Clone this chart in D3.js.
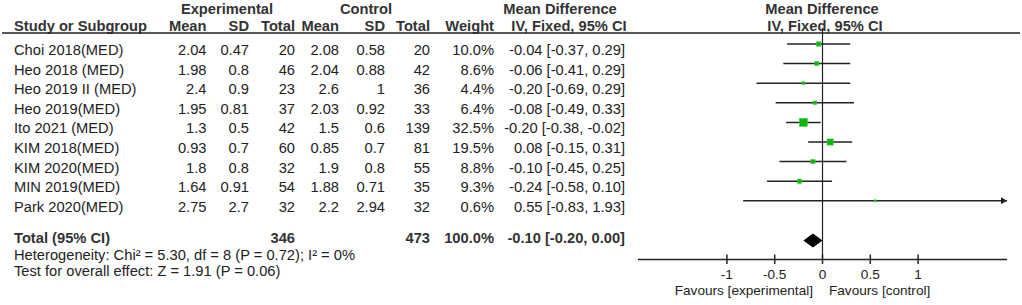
<!DOCTYPE html>
<html>
<head>
<meta charset="utf-8">
<script src="https://cdn.jsdelivr.net/npm/d3@7"></script>
<style>
  body { margin: 0; background: #fff; }
  text { font-family: "Liberation Sans", Arial, sans-serif; font-size: 14.7px; fill: #222; }
  .bold { font-weight: bold; fill: #333; }
  .axis-text { font-size: 13.6px; }
</style>
</head>
<body>
<div id="forest"></div>
<script>
// DATA
const studies = ["Choi 2018(MED)", "Heo 2018 (MED)", "Heo 2019 II (MED)", "Heo 2019(MED)", "Ito 2021 (MED)",
  "KIM 2018(MED)", "KIM 2020(MED)", "MIN 2019(MED)", "Park 2020(MED)"];
const expMean = [2.04, 1.98, 2.4, 1.95, 1.3, 0.93, 1.8, 1.64, 2.75];
const expSD = [0.47, 0.8, 0.9, 0.81, 0.5, 0.7, 0.8, 0.91, 2.7];
const expTotal = [20, 46, 23, 37, 42, 60, 32, 54, 32];
const ctlMean = [2.08, 2.04, 2.6, 2.03, 1.5, 0.85, 1.9, 1.88, 2.2];
const ctlSD = [0.58, 0.88, 1, 0.92, 0.6, 0.7, 0.8, 0.71, 2.94];
const ctlTotal = [20, 42, 36, 33, 139, 81, 55, 35, 32];
const weight = [10.0, 8.6, 4.4, 6.4, 32.5, 19.5, 8.8, 9.3, 0.6];
const md = [-0.04, -0.06, -0.20, -0.08, -0.20, 0.08, -0.10, -0.24, 0.55];
const ciLow = [-0.37, -0.41, -0.69, -0.49, -0.38, -0.15, -0.45, -0.58, -0.83];
const ciHigh = [0.29, 0.29, 0.29, 0.33, -0.02, 0.31, 0.25, 0.10, 1.93];
const total = { exp: 346, ctl: 473, weight: 100.0, md: -0.10, lo: -0.20, hi: 0.00 };
const tickValues = [-1, -0.5, 0, 0.5, 1];
const axisDomain = [-1.93, 1.93];

const WIDTH = 1022, HEIGHT = 305;

const svg = d3.select("#forest").append("svg")
  .attr("width", WIDTH).attr("height", HEIGHT);

// SCALES
const x = d3.scaleLinear().domain(axisDomain).range([638, 1007]);
const rowY = d3.scaleLinear().domain([0, 1]).range([44, 63.6]);   // plot row centre
const textY = d3.scaleLinear().domain([0, 1]).range([55, 74.6]);  // text baseline
const side = d3.scaleSqrt().domain([0, 32.5]).range([0, 8]);
const totalY = 240.5, axisY = 259.5;

// columns: right edges
const cols = [
  { vals: expMean, right: 206.5, head: "Mean" },
  { vals: expSD, right: 249, head: "SD" },
  { vals: expTotal, right: 295, head: "Total" },
  { vals: ctlMean, right: 339, head: "Mean" },
  { vals: ctlSD, right: 385, head: "SD" },
  { vals: ctlTotal, right: 430, head: "Total" },
  { vals: weight.map((w) => w.toFixed(1) + "%"), right: 494, head: "Weight" },
  { vals: md.map((m, i) => `${m.toFixed(2)} [${ciLow[i].toFixed(2)}, ${ciHigh[i].toFixed(2)}]`), right: 625, head: null }
];

// HEADERS
const head1 = [["Experimental", 227], ["Control", 366], ["Mean Difference", 560], ["Mean Difference", 822]];
svg.selectAll(".h1").data(head1).enter().append("text")
  .attr("class", "bold").attr("x", (d) => d[1]).attr("y", 14)
  .attr("text-anchor", "middle").text((d) => d[0]);

svg.append("text").attr("class", "bold").attr("x", 14).attr("y", 31).text("Study or Subgroup");
cols.filter((c) => c.head).forEach((c) => {
  svg.append("text").attr("class", "bold").attr("x", c.right).attr("y", 31)
    .attr("text-anchor", "end").text(c.head);
});
svg.append("text").attr("class", "bold").attr("x", 569).attr("y", 31)
  .attr("text-anchor", "middle").text("IV, Fixed, 95% CI");
svg.append("text").attr("class", "bold").attr("x", 825).attr("y", 31)
  .attr("text-anchor", "middle").text("IV, Fixed, 95% CI");

svg.append("line").attr("x1", 2).attr("x2", 1020).attr("y1", 33).attr("y2", 33)
  .attr("stroke", "#222").attr("stroke-width", 1.5);

// STUDY ROWS
svg.selectAll(".study").data(studies).enter().append("text")
  .attr("x", 14).attr("y", (d, i) => textY(i)).text((d) => d);

cols.forEach((c) => {
  svg.selectAll(null).data(c.vals).enter().append("text")
    .attr("x", c.right).attr("y", (d, i) => textY(i))
    .attr("text-anchor", "end").text((d) => String(d));
});

// TOTAL ROW
const tb = 243.3;
svg.append("text").attr("class", "bold").attr("x", 14).attr("y", tb).text("Total (95% CI)");
[[total.exp, 295], [total.ctl, 430], [total.weight.toFixed(1) + "%", 494],
 [`${total.md.toFixed(2)} [${total.lo.toFixed(2)}, ${total.hi.toFixed(2)}]`, 625]]
  .forEach((d) => {
    svg.append("text").attr("class", "bold").attr("x", d[1]).attr("y", tb)
      .attr("text-anchor", "end").text(d[0]);
  });

svg.append("text").attr("x", 14).attr("y", 259.5)
  .text("Heterogeneity: Chi² = 5.30, df = 8 (P = 0.72); I² = 0%");
svg.append("text").attr("x", 14).attr("y", 276.3)
  .text("Test for overall effect: Z = 1.91 (P = 0.06)");

// PLOT
svg.append("line").attr("x1", x(0)).attr("x2", x(0)).attr("y1", 28).attr("y2", axisY)
  .attr("stroke", "#222").attr("stroke-width", 1.2);

const xMax = axisDomain[1];
svg.selectAll(".ci").data(studies).enter().append("line")
  .attr("x1", (d, i) => x(Math.max(ciLow[i], axisDomain[0])))
  .attr("x2", (d, i) => x(Math.min(ciHigh[i], xMax)))
  .attr("y1", (d, i) => rowY(i)).attr("y2", (d, i) => rowY(i))
  .attr("stroke", "#222").attr("stroke-width", 1.5);

// arrows for CIs running to the edge
studies.forEach((s, i) => {
  if (ciHigh[i] >= xMax) {
    const ax = x(xMax), ay = rowY(i);
    svg.append("path").attr("d", `M${ax},${ay} L${ax - 6},${ay - 3.5} L${ax - 6},${ay + 3.5} Z`)
      .attr("fill", "#222");
  }
});

svg.selectAll(".sq").data(studies).enter().append("rect")
  .attr("x", (d, i) => x(md[i]) - Math.max(2, side(weight[i])) / 2)
  .attr("y", (d, i) => rowY(i) - Math.max(2, side(weight[i])) / 2)
  .attr("width", (d, i) => Math.max(2, side(weight[i])))
  .attr("height", (d, i) => Math.max(2, side(weight[i])))
  .attr("fill", "#0db60d").attr("stroke", "#3fd03f").attr("stroke-width", 0.6);

svg.append("path")
  .attr("d", `M${x(total.lo)},${totalY} L${x(total.md)},${totalY - 7} L${x(total.hi)},${totalY} L${x(total.md)},${totalY + 7} Z`)
  .attr("fill", "#000");

// AXIS
svg.append("line").attr("x1", x(axisDomain[0])).attr("x2", x(axisDomain[1]))
  .attr("y1", axisY).attr("y2", axisY).attr("stroke", "#222").attr("stroke-width", 1.5);
svg.selectAll(".tick").data(tickValues).enter().append("line")
  .attr("x1", (d) => x(d)).attr("x2", (d) => x(d))
  .attr("y1", axisY - 5).attr("y2", axisY + 4.5)
  .attr("stroke", "#222").attr("stroke-width", 1.5);
svg.selectAll(".tl").data(tickValues).enter().append("text")
  .attr("class", "axis-text")
  .attr("x", (d) => x(d)).attr("y", 279).attr("text-anchor", "middle")
  .text((d) => String(d));

svg.append("text").attr("class", "axis-text").attr("x", 813).attr("y", 294.5)
  .attr("text-anchor", "end").text("Favours [experimental]");
svg.append("text").attr("class", "axis-text").attr("x", 829).attr("y", 294.5)
  .text("Favours [control]");
</script>
</body>
</html>
